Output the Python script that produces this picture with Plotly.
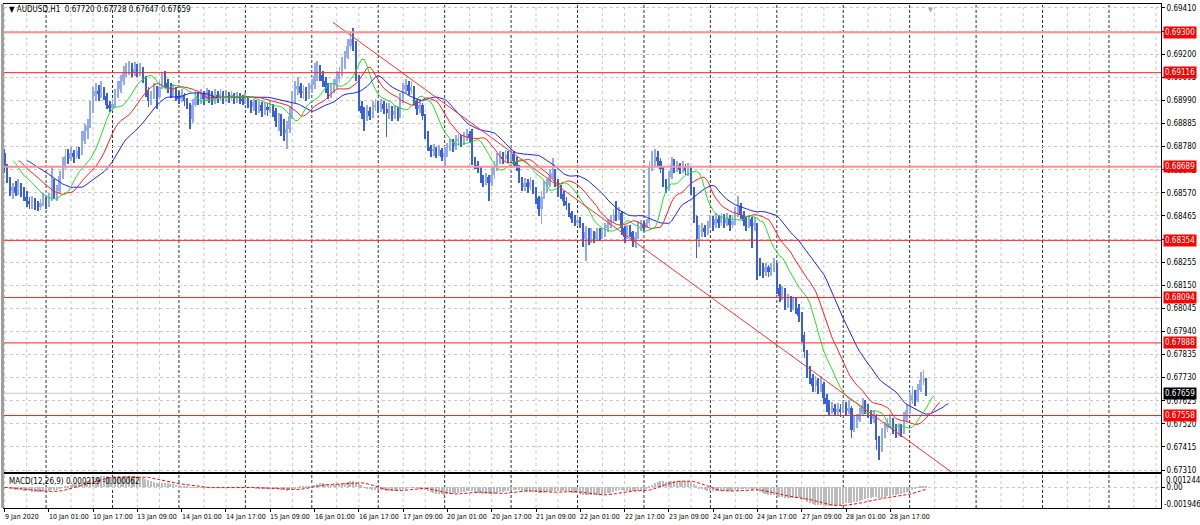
import numpy as np
import pandas as pd
import plotly.graph_objects as go

# ---------------- data (AUDUSD H1, prices in points = price * 1e5) ----------------
symbol_title = "\u25bc AUDUSD,H1  0.67720 0.67728 0.67647 0.67659"
macd_title = "MACD(12,26,9) 0.000219 -0.000062"

open_pts = [68752,
 68693,68634,68580,68598,68571,68607,68580,68553,68535,68521,68539,68516,68507,68526,68544,68521,68548,68625,68571,68580,
 68648,68693,68739,68725,68752,68734,68761,68752,68807,68852,68875,68952,69011,69034,69020,69043,69011,68970,68957,68975,
 69011,69043,69079,69115,69124,69143,69115,69134,69120,69129,69088,69034,68988,69011,69043,69006,69052,69088,69070,69052,
 69025,69043,69011,68997,69016,68988,68970,68907,68970,69006,68988,69020,68997,69025,69006,68988,69016,69002,69020,68993,
 69011,69002,69016,68993,69006,68997,68988,69002,68975,68961,68984,68952,68970,68943,68961,68948,68966,68943,68897,68916,
 68875,68843,68861,68920,68988,69043,69056,69025,69034,69011,69043,69061,69102,69134,69106,69079,69052,69025,69043,69061,
 69088,69115,69152,69188,69238,69270,69252,69102,68966,68934,68916,68943,68920,68961,68970,68948,68975,68952,68934,68952,
 68925,68943,68916,68988,69043,69061,69034,69052,68988,68952,68970,68920,68843,68779,68761,68770,68752,68766,68734,68752,
 68770,68788,68779,68807,68816,68802,68825,68838,68820,68716,68698,68680,68634,68625,68643,68616,68652,68689,68716,68734,
 68725,68743,68730,68748,68716,68693,68634,68598,68616,68598,68621,68589,68548,68498,68553,68589,68607,68643,68662,68625,
 68580,68566,68535,68516,68480,68453,68435,68448,68426,68362,68390,68353,68381,68362,68390,68371,68390,68408,68426,68444,
 68471,68462,68480,68408,68371,68408,68390,68353,68371,68417,68426,68412,68435,68689,68707,68734,68716,68680,68625,68589,
 68643,68698,68680,68698,68675,68693,68671,68684,68589,68466,68362,68390,68408,68390,68417,68444,68426,68453,68435,68462,
 68435,68453,68426,68444,68471,68512,68471,68444,68426,68453,68417,68435,68253,68226,68208,68235,68208,68226,68244,68136,
 68099,68117,68063,68081,68054,68072,68045,68009,67922,67845,67755,67727,67691,67718,67682,67700,67637,67609,67582,67591,
 67573,67587,67578,67596,67582,67591,67491,67519,67537,67564,67605,67591,67573,67546,67555,67446,67410,67473,67500,67519,
 67537,67500,67482,67500,67482,67537,67582,67627,67650,67627,67673,67718,67720]

high_pts = [68770,68702,68643,68616,68625,68634,68616,68598,68580,68553,68557,68548,68535,68544,68571,68553,68571,68693,68634,68607,
 68671,68734,68770,68770,68779,68766,68784,68779,68852,68884,68907,68988,69052,69070,69061,69079,69052,69025,68988,68997,
 69043,69079,69106,69147,69161,69170,69161,69165,69156,69161,69143,69102,69052,69034,69070,69056,69079,69115,69124,69088,
 69070,69065,69052,69034,69043,69025,69002,68979,68997,69034,69029,69043,69034,69047,69038,69034,69043,69034,69043,69034,
 69038,69029,69034,69025,69029,69025,69016,69025,69011,68993,68997,68993,68988,68984,68984,68979,68988,68975,68957,68934,
 68929,68907,68897,68966,69034,69079,69097,69070,69061,69052,69070,69088,69161,69170,69152,69124,69097,69070,69065,69088,
 69124,69143,69188,69215,69270,69306,69320,69260,69106,68988,68961,68970,68961,68988,68997,68988,68997,68988,68979,68979,
 68966,68970,68961,69025,69070,69088,69079,69079,69056,69002,68997,68979,68929,68852,68788,68793,68779,68788,68775,68779,
 68797,68816,68816,68834,68838,68834,68848,68861,68852,68861,68734,68716,68689,68652,68662,68652,68689,68716,68752,68761,
 68757,68766,68761,68770,68761,68734,68698,68643,68639,68634,68643,68630,68598,68557,68580,68625,68634,68680,68730,68680,
 68634,68607,68580,68553,68526,68489,68471,68471,68462,68435,68417,68408,68408,68398,68408,68408,68408,68435,68453,68471,
 68498,68535,68507,68489,68417,68426,68426,68398,68390,68444,68448,68444,68453,68716,68761,68770,68761,68730,68689,68634,
 68671,68734,68725,68716,68707,68716,68702,68707,68689,68598,68471,68426,68435,68426,68444,68471,68466,68480,68471,68480,
 68475,68480,68471,68471,68507,68557,68526,68489,68462,68471,68462,68462,68435,68272,68253,68253,68244,68253,68272,68253,
 68154,68145,68136,68108,68099,68095,68090,68063,68027,67936,67854,67782,67745,67736,67727,67736,67709,67655,67627,67618,
 67609,67614,67609,67623,67618,67627,67600,67555,67564,67591,67637,67627,67609,67582,67582,67564,67464,67500,67528,67546,
 67564,67546,67519,67519,67519,67573,67609,67664,67691,67673,67700,67754,67763,67728]

low_pts = [68662,68616,68557,68544,68557,68562,68553,68535,68507,68498,68498,68494,68489,68494,68512,68498,68507,68535,68544,68535,
 68571,68634,68680,68702,68716,68707,68725,68725,68743,68793,68816,68866,68934,68988,68988,69002,68993,68952,68939,68943,
 68961,69002,69025,69061,69097,69106,69097,69102,69097,69102,69070,69006,68961,68970,68997,68952,68997,69043,69047,69025,
 69002,69006,68988,68975,68984,68966,68952,68861,68888,68961,68970,68975,68970,68988,68979,68970,68975,68979,68988,68975,
 68984,68979,68988,68975,68979,68975,68970,68975,68957,68934,68943,68925,68934,68916,68925,68920,68934,68916,68870,68852,
 68829,68807,68770,68843,68907,68979,69016,69002,68997,68988,68997,69025,69043,69079,69079,69052,69025,68997,69002,69025,
 69043,69070,69102,69134,69179,69224,69215,69079,68943,68907,68852,68897,68902,68911,68943,68934,68939,68929,68825,68907,
 68897,68907,68897,68911,68979,69025,69016,69020,68970,68925,68934,68902,68816,68761,68734,68739,68730,68739,68716,68693,
 68734,68761,68757,68766,68784,68779,68788,68807,68797,68698,68680,68662,68616,68598,68607,68535,68603,68634,68671,68702,
 68702,68712,68707,68716,68693,68671,68616,68580,68580,68571,68585,68566,68521,68466,68430,68544,68571,68598,68634,68598,
 68553,68544,68512,68494,68462,68435,68417,68421,68408,68326,68262,68335,68340,68344,68353,68353,68362,68371,68390,68408,
 68435,68444,68448,68380,68340,68362,68371,68326,68321,68362,68398,68394,68408,68421,68671,68689,68689,68662,68598,68571,
 68580,68634,68662,68666,68657,68662,68652,68648,68562,68435,68276,68326,68371,68367,68380,68408,68398,68412,68408,68417,
 68408,68421,68398,68408,68426,68462,68453,68417,68398,68408,68321,68398,68172,68190,68181,68190,68186,68194,68208,68108,
 68072,68081,68036,68045,68027,68036,68018,67981,67891,67818,67727,67700,67664,67664,67655,67664,67609,67573,67560,67564,
 67555,67560,67551,67569,67555,67564,67455,67482,67500,67528,67555,67564,67546,67519,67523,67401,67355,67392,67455,67482,
 67500,67473,67455,67464,67460,67473,67528,67564,67609,67600,67618,67664,67696,67647]

close_pts = [68693,68634,68580,68598,68571,68607,68580,68553,68535,68521,68539,68516,68507,68526,68544,68521,68548,68625,68571,68580,
 68648,68693,68739,68725,68752,68734,68761,68752,68807,68852,68875,68952,69011,69034,69020,69043,69011,68970,68957,68975,
 69011,69043,69079,69115,69124,69143,69115,69134,69120,69129,69088,69034,68988,69011,69043,69006,69052,69088,69070,69052,
 69025,69043,69011,68997,69016,68988,68970,68907,68970,69006,68988,69020,68997,69025,69006,68988,69016,69002,69020,68993,
 69011,69002,69016,68993,69006,68997,68988,69002,68975,68961,68984,68952,68970,68943,68961,68948,68966,68943,68897,68916,
 68875,68843,68861,68920,68988,69043,69056,69025,69034,69011,69043,69061,69102,69134,69106,69079,69052,69025,69043,69061,
 69088,69115,69152,69188,69238,69270,69252,69102,68966,68934,68916,68943,68920,68961,68970,68948,68975,68952,68934,68952,
 68925,68943,68916,68988,69043,69061,69034,69052,68988,68952,68970,68920,68843,68779,68761,68770,68752,68766,68734,68752,
 68770,68788,68779,68807,68816,68802,68825,68838,68820,68716,68698,68680,68634,68625,68643,68616,68652,68689,68716,68734,
 68725,68743,68730,68748,68716,68693,68634,68598,68616,68598,68621,68589,68548,68498,68553,68589,68607,68643,68662,68625,
 68580,68566,68535,68516,68480,68453,68435,68448,68426,68362,68390,68353,68381,68362,68390,68371,68390,68408,68426,68444,
 68471,68462,68480,68408,68371,68408,68390,68353,68371,68417,68426,68412,68435,68689,68707,68734,68716,68680,68625,68589,
 68643,68698,68680,68698,68675,68693,68671,68684,68589,68466,68362,68390,68408,68390,68417,68444,68426,68453,68435,68462,
 68435,68453,68426,68444,68471,68512,68471,68444,68426,68453,68417,68435,68253,68226,68208,68235,68208,68226,68244,68136,
 68099,68117,68063,68081,68054,68072,68045,68009,67922,67845,67755,67727,67691,67718,67682,67700,67637,67609,67582,67591,
 67573,67587,67578,67596,67582,67591,67491,67519,67537,67564,67605,67591,67573,67546,67555,67446,67410,67473,67500,67519,
 67537,67500,67482,67500,67482,67537,67582,67627,67650,67627,67673,67718,67720,67659]

time_label_bars = [0, 16, 32, 48, 64, 80, 96, 112, 128, 144, 160, 176, 192, 208, 224, 240, 256, 272, 288, 304, 320]
time_labels = ["9 Jan 2020", "10 Jan 01:00", "10 Jan 17:00", "13 Jan 09:00", "14 Jan 01:00", "14 Jan 17:00",
               "15 Jan 09:00", "16 Jan 01:00", "16 Jan 17:00", "17 Jan 09:00", "20 Jan 01:00", "20 Jan 17:00",
               "21 Jan 09:00", "22 Jan 01:00", "22 Jan 17:00", "23 Jan 09:00", "24 Jan 01:00", "24 Jan 17:00",
               "27 Jan 09:00", "28 Jan 01:00", "28 Jan 17:00"]
day_start_bars = [15, 39, 63, 87, 111, 135, 159, 183, 207, 231, 255, 279, 303, 327, 351, 375, 399]

price_ticks = [0.67310, 0.67415, 0.67520, 0.67625, 0.67730, 0.67835, 0.67940, 0.68045, 0.68150, 0.68255,
               0.68360, 0.68465, 0.68570, 0.68675, 0.68780, 0.68885, 0.68990, 0.69095, 0.69200, 0.69305, 0.69410]
level_prices = [0.69300, 0.69116, 0.68689, 0.68354, 0.68094, 0.67888, 0.67558]
level_thick = [True, False, True, False, False, False, False]
current_price = 0.67659
trend_x = [118.7, 342.1]
trend_y = [0.69344, 0.67301]
macd_labels = ["0.001244", "-0.001946"]
macd_range = [-0.001946, 0.001244]

# ---------------- derived series ----------------
o = np.array(open_pts) / 1e5
h = np.array(high_pts) / 1e5
l = np.array(low_pts) / 1e5
c = np.array(close_pts) / 1e5
N = len(c)
bars = np.arange(N)

median = pd.Series((h + l) / 2)
def smma(s, n):
    return s.ewm(alpha=1.0 / n, adjust=False).mean()
jaw = smma(median, 13); teeth = smma(median, 8); lips = smma(median, 5)

cs = pd.Series(c)
macd = cs.ewm(span=12, adjust=False).mean() - cs.ewm(span=26, adjust=False).mean()
signal = macd.rolling(9, min_periods=1).mean()

# ---------------- figure ----------------
UP = "#93aaee"
DN = "#3a5fd6"
FONT = "Liberation Sans Narrow, Arial Narrow, DejaVu Sans Condensed, Liberation Sans"
FS = 8
FS_T = 7
fig = go.Figure()

is_up = c >= o
cols = np.where(is_up, UP, DN)
fig.add_trace(go.Bar(x=bars, y=h - l, base=l, width=0.32, marker=dict(color=cols, line=dict(width=0)),
                     showlegend=False, hoverinfo="skip", xaxis="x", yaxis="y"))
fig.add_trace(go.Bar(x=bars, y=np.abs(c - o), base=np.minimum(o, c), width=0.72,
                     marker=dict(color=cols, line=dict(width=0)),
                     showlegend=False, hoverinfo="skip", xaxis="x", yaxis="y"))

for series, shift, col in [(jaw, 8, "#2020ff"), (teeth, 5, "#ff2020"), (lips, 3, "#20e020")]:
    fig.add_trace(go.Scatter(x=bars + shift, y=series.values, mode="lines",
                             line=dict(color=col, width=1), showlegend=False,
                             hoverinfo="skip", xaxis="x", yaxis="y"))

fig.add_trace(go.Scatter(x=trend_x, y=trend_y, mode="lines", line=dict(color="#ff3030", width=1),
                         showlegend=False, hoverinfo="skip", xaxis="x", yaxis="y"))

fig.add_trace(go.Bar(x=bars, y=macd.values, marker=dict(color="#bcbcbc", line=dict(width=0)),
                     width=0.55, showlegend=False, hoverinfo="skip", xaxis="x2", yaxis="y2"))
fig.add_trace(go.Scatter(x=bars, y=signal.values, mode="lines",
                         line=dict(color="#ff0000", width=1, dash="3px,2px"),
                         showlegend=False, hoverinfo="skip", xaxis="x2", yaxis="y2"))

shapes = []
for k in range(0, 420, 8):
    if any(abs(k - d) <= 1 for d in day_start_bars):
        continue
    shapes.append(dict(type="line", xref="x", yref="paper", x0=k, x1=k, y0=0, y1=1,
                       line=dict(color="#c8c8c8", width=1, dash="3px,3px"), layer="below"))
for d in day_start_bars:
    shapes.append(dict(type="line", xref="x", yref="paper", x0=d, x1=d, y0=0, y1=1,
                       line=dict(color="#303030", width=1, dash="3px,2px"), layer="below"))
shapes.append(dict(type="line", xref="paper", yref="y", x0=0, x1=1, y0=current_price, y1=current_price,
                   line=dict(color="#c8c8c8", width=1), layer="below"))
for lv, thick in zip(level_prices, level_thick):
    shapes.append(dict(type="line", xref="paper", yref="y", x0=0, x1=1, y0=lv, y1=lv,
                       line=dict(color="#ff9090" if thick else "#ff2020", width=2 if thick else 1),
                       layer="above"))
shapes.append(dict(type="rect", xref="paper", yref="paper", x0=-0.0026, x1=0, y0=0, y1=1,
                   fillcolor="#a0a0a0", line=dict(width=0)))

annotations = []
for lv in level_prices:
    annotations.append(dict(xref="paper", yref="y", x=1, y=lv, xanchor="left", yanchor="middle",
                            xshift=2, text=f"{lv:.5f}", showarrow=False, bgcolor="#ff0000",
                            font=dict(family=FONT, size=FS, color="white"), borderpad=1))
annotations.append(dict(xref="paper", yref="y", x=1, y=current_price, xanchor="left", yanchor="middle",
                        xshift=2, text=f"{current_price:.5f}", showarrow=False, bgcolor="#000000",
                        font=dict(family=FONT, size=FS, color="white"), borderpad=1))
for b, t in zip(time_label_bars, time_labels):
    annotations.append(dict(xref="x", yref="paper", x=b, y=0, xanchor="left", yanchor="top",
                            xshift=-2, yshift=-3, text=t, showarrow=False,
                            font=dict(family=FONT, size=FS_T, color="black")))
annotations.append(dict(xref="paper", yref="paper", x=0, y=0.990, xanchor="left", yanchor="middle",
                        xshift=3, text=symbol_title, showarrow=False,
                        font=dict(family=FONT, size=FS, color="black")))
annotations.append(dict(xref="paper", yref="paper", x=0, y=0.0535, xanchor="left", yanchor="middle",
                        xshift=3, text=macd_title, showarrow=False,
                        font=dict(family=FONT, size=FS, color="black")))
annotations.append(dict(xref="paper", yref="paper", x=1, y=0.0554, xanchor="left", yanchor="middle",
                        xshift=3, text=macd_labels[0], showarrow=False,
                        font=dict(family=FONT, size=FS, color="black")))
annotations.append(dict(xref="paper", yref="paper", x=1, y=0.0079, xanchor="left", yanchor="middle",
                        xshift=1, text=macd_labels[1], showarrow=False,
                        font=dict(family=FONT, size=FS, color="black")))
annotations.append(dict(xref="x", yref="paper", x=334.5, y=1, xanchor="center", yanchor="top",
                        text="\u25bc", showarrow=False, font=dict(family=FONT, size=7, color="#a8a8a8")))

x_range = [-0.2, 417.8]
H_PLOT = 505.0
fig.update_layout(
    width=1200, height=525,
    margin=dict(l=3, r=35, t=3, b=17),
    paper_bgcolor="white", plot_bgcolor="white",
    font=dict(family=FONT, size=FS, color="black"),
    hovermode=False, showlegend=False, barmode="overlay", bargap=0,
    xaxis=dict(domain=[0, 1], range=x_range, anchor="y", showticklabels=False, showgrid=False,
               zeroline=False, showline=True, mirror=True, linecolor="black", linewidth=1),
    yaxis=dict(domain=[36 / H_PLOT, 1], range=[0.67301, 0.69428], side="right", tickvals=price_ticks,
               tickformat=".5f", ticks="outside", ticklen=3, tickcolor="black",
               tickfont=dict(family=FONT, size=FS, color="black"),
               showgrid=True, gridcolor="#c8c8c8", griddash="3px,3px", gridwidth=1,
               zeroline=False, showline=True, mirror=True, linecolor="black", linewidth=1),
    xaxis2=dict(domain=[0, 1], range=x_range, anchor="y2", matches="x", tickvals=time_label_bars,
                showticklabels=False, ticks="outside", ticklen=3, tickcolor="black", showgrid=False,
                zeroline=False, showline=True, mirror=True, linecolor="black", linewidth=1),
    yaxis2=dict(domain=[0, 34 / H_PLOT], range=macd_range, side="right", tickvals=[0], ticktext=["0.00"],
                ticks="outside", ticklen=3, tickcolor="black",
                tickfont=dict(family=FONT, size=FS, color="black"),
                showgrid=True, gridcolor="#c8c8c8", griddash="3px,3px",
                zeroline=False, showline=True, mirror=True, linecolor="black", linewidth=1),
    shapes=shapes, annotations=annotations,
)

fig.write_html("out.html", config={"displayModeBar": False},
               post_script="document.body.style.margin='0px';document.body.style.overflow='hidden';")
